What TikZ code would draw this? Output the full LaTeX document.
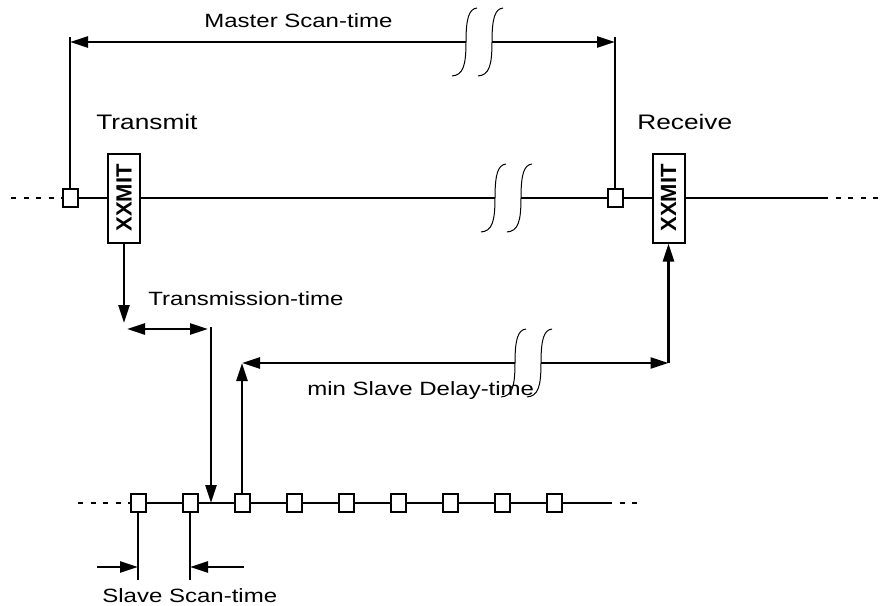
\documentclass[tikz,border=0pt]{standalone}
\usepackage{fontspec}
\setmainfont{Liberation Sans}[FakeStretch=1.25]
\newfontfamily\boxfont{Liberation Sans}
\usetikzlibrary{arrows.meta, positioning}

\tikzset{
  pics/brk/.style={code={
    \fill[white] (0,-4) rectangle (26,4);
    \foreach \dx in {0,26}
      \draw[line width=0.5pt] (\dx-14,34) .. controls (\dx-3,33) and (\dx,24) .. (\dx,0)
        .. controls (\dx,-24) and (\dx+3,-33) .. (\dx+11,-34);
  }}
}

\begin{document}
\begin{tikzpicture}[x=0.5pt, y=-0.5pt, font=\fontsize{9.6}{11}\selectfont]
\tikzstyle{slot} = [rectangle, draw=black, fill=white, line width=1pt,
                    minimum width=7.5pt, minimum height=9pt, inner sep=0pt]
\tikzstyle{xmit} = [rectangle, draw=black, fill=white, line width=1pt,
                    minimum width=16pt, minimum height=44.5pt, inner sep=0pt]
\tikzstyle{wire} = [line width=1.2pt]
\tikzstyle{dots} = [line width=1.2pt, dash pattern=on 2.5pt off 3.8pt]
\tikzstyle{arrow} = [line width=1.2pt, -{Triangle[length=9pt,width=5.5pt]}]
\tikzstyle{twoway} = [line width=1.2pt, {Triangle[length=9pt,width=5.5pt]}-{Triangle[length=9pt,width=5.5pt]}]
\tikzstyle{timetext} = [anchor=base west, inner sep=0pt]
\tikzstyle{sidetext} = [timetext, font=\fontsize{10.5}{12}\selectfont]
\useasboundingbox (0,0) rectangle (885,606);

% master line
\node (M1) [slot] at (70,198) {};
\node (TX) [xmit] at (124,198) {\rotatebox{90}{\boxfont\fontsize{11}{12}\selectfont\bfseries XXMIT}};
\node (M2) [slot] at (615,198) {};
\node (RX) [xmit] at (668.5,198) {\rotatebox{90}{\boxfont\fontsize{11}{12}\selectfont\bfseries XXMIT}};
\coordinate (mainL) at (11,198);
\coordinate (mainRs) at (823,198);
\coordinate (mainR) at (885,198);
\draw [dots] (mainL) -- (M1.west);
\draw [wire] (M1) -- (TX);
\draw [wire] (TX) -- (M2);
\draw [wire] (M2) -- (RX);
\draw [wire] (RX) -- (mainRs);
\draw [dots] (mainRs) -- (mainR);

% master scan-time
\coordinate (mstopL) at (70,37);
\coordinate (mstopR) at (615,37);
\coordinate (mscan) at (0,42);
\draw [wire] (M1) -- (mstopL);
\draw [wire] (M2) -- (mstopR);
\draw [twoway] (M1 |- mscan) -- (M2 |- mscan);
\node (mscantxt) [timetext] at (204,27) {Master Scan-time};
\node (txtxt) [sidetext] at (96,129) {Transmit};
\node (rxtxt) [sidetext] at (637,129) {Receive};

% slave line
\foreach \i in {0,...,8}
  \node (s\i) [slot] at ({138+52*\i},503) {};
\foreach \i [count=\j from 1] in {0,...,7}
  \draw [wire] (s\i) -- (s\j);
\coordinate (lowL) at (78,503);
\coordinate (lowRs) at (607,503);
\coordinate (lowR) at (643,503);
\draw [dots] (lowL) -- (s0.west);
\draw [wire] (s8) -- (lowRs);
\draw [dots] (lowRs) -- (lowR);

% transmission-time
\coordinate (txdrop) at (124,323);
\coordinate (tta) at (127,329);
\coordinate (ttb) at (208,329);
\coordinate (ttv) at (211,327);
\coordinate (hit) at (211,503);
\draw [arrow] (TX) -- (txdrop);
\draw [twoway] (tta) -- (ttb);
\draw [arrow] (ttv) -- (hit);
\node (tttxt) [timetext] at (148,305) {Transmission-time};

% min slave delay-time
\coordinate (msd) at (0,363);
\coordinate (msdR) at (RX.south |- msd);
\draw [arrow] (s2) -- (s2 |- msd);
\draw [twoway] (s2 |- msd) -- (msdR);
\draw [arrow] (msdR) -- (RX.south);
\node (msdtxt) [timetext] at (307,395) {min Slave Delay-time};

% slave scan-time
\coordinate (ssl) at (97,567);
\coordinate (ssr) at (244,567);
\coordinate (ssb) at (0,580);
\draw [wire] (s0) -- (s0 |- ssb);
\draw [wire] (s1) -- (s1 |- ssb);
\draw [arrow] (ssl) -- (s0 |- ssl);
\draw [arrow] (ssr) -- (s1 |- ssr);
\node (sstxt) [timetext] at (102,602) {Slave Scan-time};

% breaks
\pic at (466,42) {brk};
\pic at (495,198) {brk};
\pic at (515,363) {brk};
\end{tikzpicture}
\end{document}
